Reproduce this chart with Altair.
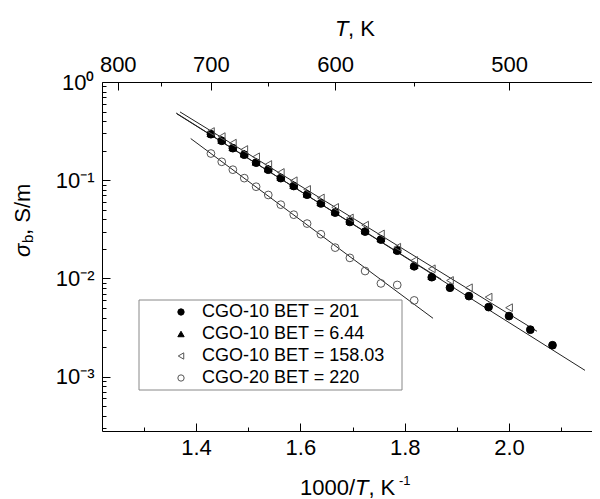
import altair as alt
import pandas as pd

# ---------------- data ----------------
# 1000/T (K^-1) for T = 700, 690, ..., 480 K
x_vals = [1.4286, 1.4493, 1.4706, 1.4925, 1.5152, 1.5385, 1.5625, 1.5873,
          1.6129, 1.6393, 1.6667, 1.6949, 1.7241, 1.7544, 1.7857, 1.8182,
          1.8519, 1.8868, 1.9231, 1.9608, 2.0000, 2.0408, 2.0833]

series_names = ["CGO-10 BET = 201", "CGO-10 BET = 6.44",
                "CGO-10 BET = 158.03", "CGO-20 BET = 220"]

cgo10_201 = [0.294, 0.252, 0.212, 0.182, 0.151, 0.128, 0.105, 0.0873, 0.0713,
             0.0581, 0.0468, 0.0376, 0.0300, 0.0249, 0.0192, 0.0133, 0.0103,
             0.00805, 0.00661, 0.00511, 0.00414, 0.00301, 0.00209]
cgo10_644 = [0.300, 0.257, 0.216, 0.186, 0.154, 0.131, 0.108, 0.089, 0.0728,
             0.0595, 0.0478, 0.0386, 0.0307, 0.0255, 0.0197, 0.0137, 0.0106]
cgo10_158 = [0.313, 0.278, 0.2385, 0.2055, 0.1732, 0.1446, 0.120, 0.0988,
             0.0806, 0.0660, 0.0529, 0.0413, 0.0349, 0.0284, 0.0208, 0.01523,
             0.01254, 0.00954, 0.00804, 0.00646, 0.00504]
cgo20_220 = [0.187, 0.154, 0.128, 0.105, 0.0859, 0.0708, 0.0564, 0.0446,
             0.0362, 0.0282, 0.0206, 0.0162, 0.0119, 0.00890, 0.00859, 0.00598]

# linear fits (end points in 1000/T and sigma)
fit_x = {
    "CGO-10 BET = 201": [1.3617, 2.1456],
    "CGO-10 BET = 6.44": [1.3636, 1.8700],
    "CGO-10 BET = 158.03": [1.3693, 2.0536],
    "CGO-20 BET = 220": [1.3898, 1.8543],
}
fit_y = {
    "CGO-10 BET = 201": [0.484, 0.00116],
    "CGO-10 BET = 6.44": [0.473, 0.0098],
    "CGO-10 BET = 158.03": [0.496, 0.0029],
    "CGO-20 BET = 220": [0.2657, 0.00393],
}

x_major = [1.4, 1.6, 1.8, 2.0]
x_minor = [1.3, 1.5, 1.7, 1.9, 2.1]
top_major = [1.25, 1.428571, 1.666667, 2.0]      # 800, 700, 600, 500 K
top_minor = [1.333333, 1.538462, 1.818182]       # 750, 650, 550 K
y_major = [0.001, 0.01, 0.1, 1.0]
y_minor = [3e-4, 4e-4, 5e-4, 6e-4, 7e-4, 8e-4, 9e-4,
           2e-3, 3e-3, 4e-3, 5e-3, 6e-3, 7e-3, 8e-3, 9e-3,
           2e-2, 3e-2, 4e-2, 5e-2, 6e-2, 7e-2, 8e-2, 9e-2,
           0.2, 0.3, 0.4, 0.5, 0.6, 0.7, 0.8, 0.9]

# ---------------- tables ----------------
rows = []
for name, ys in zip(series_names, [cgo10_201, cgo10_644, cgo10_158, cgo20_220]):
    for xv, yv in zip(x_vals, ys):
        rows.append({"series": name, "x": xv, "y": yv})
pts = pd.DataFrame(rows)

frows = []
for name in series_names:
    for xv, yv in zip(fit_x[name], fit_y[name]):
        frows.append({"series": name, "x": xv, "y": yv})
fits = pd.DataFrame(frows)

# ---------------- layout ----------------
W, H = 490, 349
FONT = "Liberation Sans"
TICK_FS = 22
xs = alt.Scale(domain=[1.2198, 2.159], nice=False, zero=False)
ys = alt.Scale(type="log", domain=[2.8e-4, 1.0], nice=False)

def ax(**kw):
    base = dict(grid=False, title=None, labelFont=FONT, labelColor="black",
                domainColor="black", tickColor="black", tickWidth=1, domainWidth=1)
    base.update(kw)
    return alt.Axis(**base)

# fit lines with the labelled bottom / left axes
lines = alt.Chart(fits).mark_line(strokeWidth=1, color="#222").encode(
    x=alt.X("x:Q", scale=xs, axis=ax(orient="bottom", values=x_major, format=".1f",
                                     ticks=False, labelFontSize=TICK_FS, labelPadding=6)),
    y=alt.Y("y:Q", scale=ys, axis=ax(
        orient="left", values=y_major, ticks=False, labelFontSize=TICK_FS, labelPadding=8,
        labelExpr="datum.value > 0.5 ? '10\u2070' : datum.value > 0.05 ? '10\u207b\u00b9' : "
                  "datum.value > 0.005 ? '10\u207b\u00b2' : '10\u207b\u00b3'")),
    detail="series:N",
)

sym_domain = series_names
leg = alt.Legend(title=None)
points = alt.Chart(pts).mark_point(size=60, strokeWidth=1, opacity=1).encode(
    x=alt.X("x:Q", scale=xs, axis=None),
    y=alt.Y("y:Q", scale=ys, axis=None),
    shape=alt.Shape("series:N", title=None, sort=sym_domain, legend=leg,
                    scale=alt.Scale(domain=sym_domain,
                                    range=["circle", "triangle-up", "triangle-left", "circle"])),
    fill=alt.Fill("series:N", title=None, sort=sym_domain, legend=leg,
                  scale=alt.Scale(domain=sym_domain,
                                  range=["black", "black", "transparent", "transparent"])),
    stroke=alt.Stroke("series:N", title=None, sort=sym_domain, legend=leg,
                      scale=alt.Scale(domain=sym_domain,
                                      range=["black", "black", "#555555", "#555555"])),
)

# legend frame
legend_box = alt.Chart(alt.Data(values=[{}])).mark_rect(
    fill=None, stroke="#888888", strokeWidth=1
).encode(x=alt.value(37), x2=alt.value(300), y=alt.value(218), y2=alt.value(308))

def ghost(xaxis, yaxis):
    return alt.Chart(fits).mark_point(opacity=0).encode(
        x=alt.X("x:Q", scale=xs, axis=xaxis),
        y=alt.Y("y:Q", scale=ys, axis=yaxis),
    )

top_labels = ghost(ax(orient="top", values=top_major, ticks=False, labelFontSize=TICK_FS,
                      labelPadding=6, labelExpr="format(1000/datum.value, '.0f')"), None)
in_major = ghost(ax(orient="top", offset=-H, values=x_major, labels=False, domain=False, tickSize=8),
                 ax(orient="right", offset=-W, values=y_major, labels=False, domain=False, tickSize=8))
in_minor = ghost(ax(orient="top", offset=-H, values=x_minor, labels=False, domain=False, tickSize=4),
                 ax(orient="right", offset=-W, values=y_minor, labels=False, domain=False, tickSize=4))
top_in_major = ghost(ax(orient="bottom", offset=-H, values=top_major, labels=False,
                        domain=False, tickSize=8), None)
top_in_minor = ghost(ax(orient="bottom", offset=-H, values=top_minor, labels=False,
                        domain=False, tickSize=4), None)

def txt(s, x, y, size=22, italic=False, angle=0, align="left"):
    kw = dict(text=s, font=FONT, fontSize=size, color="black", align=align, baseline="middle")
    if italic:
        kw["fontStyle"] = "italic"
    if angle:
        kw["angle"] = angle
    return alt.Chart(alt.Data(values=[{}])).mark_text(**kw).encode(
        x=alt.value(x), y=alt.value(y))

titles = [
    # top title: T, K
    txt("T", 233, -53, italic=True),
    txt(", K", 246, -53),
    # bottom title: 1000/T, K^-1
    txt("1000/", 198, 406),
    txt("T", 253, 406, italic=True),
    txt(", K", 266.4, 406),
    txt("-1", 297, 399, size=13),
    # left title: sigma_b, S/m (rotated)
    txt("\u03c3", -79, 175, size=22, italic=True, angle=270),
    txt("b", -74, 161, size=15, angle=270),
    txt(", S/m", -79, 153, size=22, angle=270),
]

chart = alt.layer(
    lines, in_major, in_minor, top_in_major, top_in_minor, top_labels, points,
    legend_box, *titles
).resolve_axis(x="independent", y="independent").properties(
    width=W, height=H,
    autosize=alt.AutoSizeParams(type="none"),
    padding={"left": 94, "top": 74, "right": 0, "bottom": 68},
    background="white",
).configure_view(stroke=None).configure_legend(
    orient="none", legendX=37, legendY=218,
    padding=3,
    labelFont=FONT, labelFontSize=18, labelColor="black",
    symbolSize=40, symbolStrokeWidth=1, symbolOffset=30, labelOffset=12,
    rowPadding=4, labelLimit=400,
)

chart.save("out.html", embed_options={"renderer": "svg", "actions": False})
